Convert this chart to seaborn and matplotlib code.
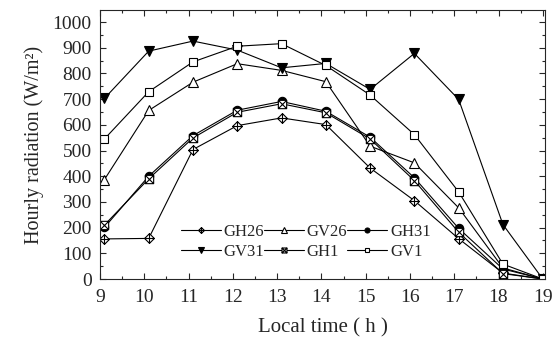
import numpy as np
import pandas as pd
import matplotlib
matplotlib.use("Agg")
import matplotlib.pyplot as plt
from matplotlib.path import Path
from matplotlib.ticker import MultipleLocator
import seaborn as sns

hours = [9.1, 10.1, 11.1, 12.1, 13.1, 14.1, 15.1, 16.1, 17.1, 18.1, 19.0]
gh26 = [156, 158, 504, 597, 627, 601, 432, 305, 157, 23, 0]
gv26 = [387, 656, 766, 838, 812, 768, 517, 452, 277, 43, 0]
gh31 = [201, 400, 558, 657, 691, 653, 552, 394, 197, 39, 0]
gv31 = [703, 887, 926, 891, 822, 839, 738, 878, 699, 212, 0]
gh1 = [210, 390, 549, 649, 682, 647, 545, 383, 182, 21, 0]
gv1 = [545, 729, 845, 906, 916, 831, 716, 562, 339, 58, 0]
labels = ["GH26", "GV26", "GH31", "GV31", "GH1", "GV1"]
series = [gh26, gv26, gh31, gv31, gh1, gv1]

sns.set_style("ticks")
plt.rcParams['font.family'] = ['Liberation Serif', 'DejaVu Serif']

# custom markers
diamond_plus = Path(
    [(0, 1), (1, 0), (0, -1), (-1, 0), (0, 1), (0, 1), (0, -1), (-1, 0), (1, 0)],
    [Path.MOVETO, Path.LINETO, Path.LINETO, Path.LINETO, Path.CLOSEPOLY,
     Path.MOVETO, Path.LINETO, Path.MOVETO, Path.LINETO])
box_x = Path(
    [(-1, -1), (1, -1), (1, 1), (-1, 1), (-1, -1), (-1, -1), (1, 1), (-1, 1), (1, -1)],
    [Path.MOVETO, Path.LINETO, Path.LINETO, Path.LINETO, Path.CLOSEPOLY,
     Path.MOVETO, Path.LINETO, Path.MOVETO, Path.LINETO])

styles = [
    dict(marker=diamond_plus, markersize=7, markerfacecolor='white'),
    dict(marker='^', markersize=7, markerfacecolor='white'),
    dict(marker='o', markersize=6, markerfacecolor='black'),
    dict(marker='v', markersize=7, markerfacecolor='black'),
    dict(marker=box_x, markersize=6, markerfacecolor='white'),
    dict(marker='s', markersize=6, markerfacecolor='white'),
]

fig = plt.figure(figsize=(5.52, 3.41), dpi=100)
ax = fig.add_axes([100/552, 1 - 279/341, 445/552, 269/341])

for lab, vals, st in zip(labels, series, styles):
    df = pd.DataFrame({"t": hours, "v": vals})
    sns.lineplot(data=df, x="t", y="v", ax=ax, color='black', linewidth=0.8,
                 markeredgecolor='black', markeredgewidth=0.8, label=lab, **st)

ax.set_xlim(9, 19.05)
ax.set_ylim(0, 1047)
ax.set_xticks(range(9, 20))
ax.set_yticks(range(0, 1001, 100))
ax.xaxis.set_minor_locator(MultipleLocator(0.5))
ax.yaxis.set_minor_locator(MultipleLocator(50))
ax.tick_params(which='both', direction='in', top=True, right=True, labelsize=14, width=0.8)
ax.tick_params(axis='x', pad=7)
ax.tick_params(axis='y', pad=6)
ax.tick_params(which='major', length=4)
ax.tick_params(which='minor', length=2.5)
for s in ax.spines.values():
    s.set_linewidth(0.8)
ax.set_xlabel("Local time ( h )", fontsize=15, labelpad=9)
ax.set_ylabel("Hourly radiation (W/m²)", fontsize=14.5, labelpad=6)

handles, labs = ax.get_legend_handles_labels()
order = [0, 3, 1, 4, 2, 5]
leg = ax.legend([handles[i] for i in order], [labs[i] for i in order],
                ncol=3, frameon=False, loc='lower left', bbox_to_anchor=(0.16, 0.035),
                fontsize=12, handlelength=2.4, handletextpad=0.15, columnspacing=0.0,
                labelspacing=0.2, borderpad=0.1, markerscale=0.6)

fig.savefig("out.png", dpi=100)
